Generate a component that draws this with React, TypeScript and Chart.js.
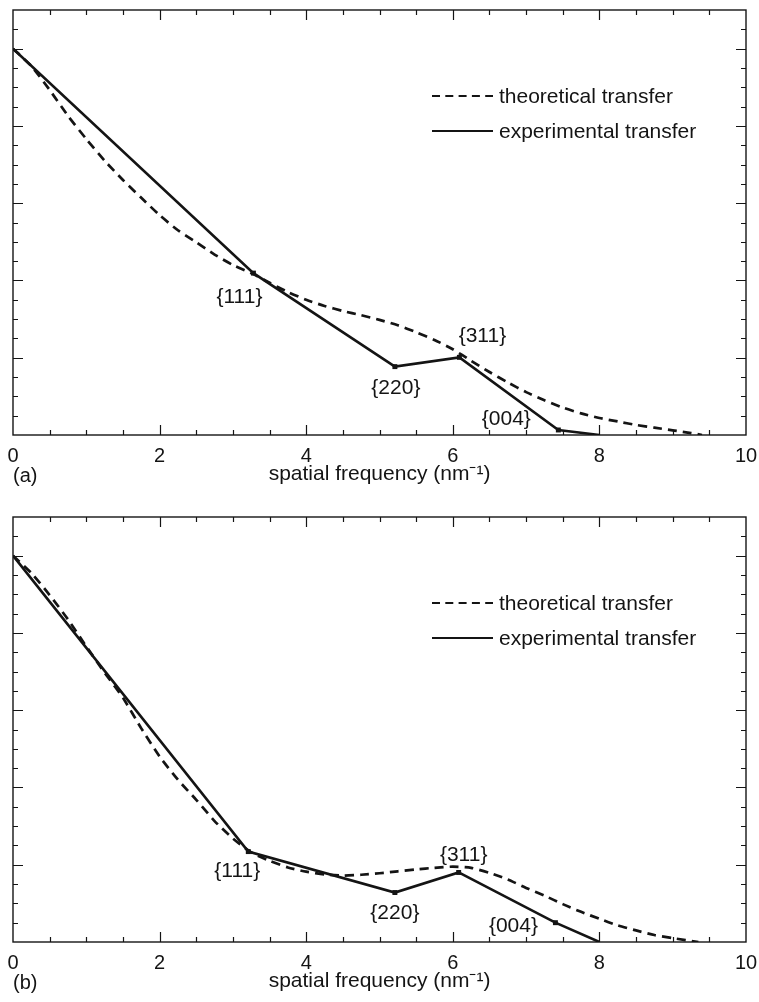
import React, { useEffect, useRef } from 'react';
import { Chart, registerables } from 'chart.js';

Chart.register(...registerables);

// ---------- data ----------
const X_MIN = 0;
const X_MAX = 10;
const Y_MIN = 0;
const Y_MAX = 1.1;

const X_TICK_LABELS = [0, 2, 4, 6, 8, 10];
const X_TICK_MARKS = [0.5, 1, 1.5, 2, 2.5, 3, 3.5, 4, 4.5, 5, 5.5, 6, 6.5, 7, 7.5, 8, 8.5, 9, 9.5];
const X_MAJOR_MARKS = [2, 4, 6, 8];
const Y_TICK_MARKS = [0.05, 0.1, 0.15, 0.2, 0.25, 0.3, 0.35, 0.4, 0.45, 0.5, 0.55, 0.6, 0.65, 0.7, 0.75, 0.8, 0.85, 0.9, 0.95, 1.0, 1.05];
const Y_MAJOR_MARKS = [0.2, 0.4, 0.6, 0.8, 1.0];

const X_TITLE = 'spatial frequency (nm⁻¹)';
const LEGEND_LABELS = ['theoretical transfer', 'experimental transfer'];
const REFLECTIONS = ['{111}', '{220}', '{311}', '{004}'];
const PANEL_LABELS = ['(a)', '(b)'];

// panel (a)
const A_THEORY_X = [0, 0.25, 0.5, 0.75, 1.0, 1.25, 1.5, 1.75, 2.0, 2.25, 2.5, 2.75, 3.0, 3.25, 3.5, 3.75, 4.0, 4.25, 4.5, 4.75, 5.0, 5.25, 5.5, 5.75, 6.0, 6.25, 6.5, 6.75, 7.0, 7.25, 7.5, 7.75, 8.0, 8.25, 8.5, 8.75, 9.0, 9.25, 9.4];
const A_THEORY_Y = [1.0, 0.955, 0.893, 0.826, 0.766, 0.71, 0.66, 0.614, 0.569, 0.53, 0.499, 0.467, 0.44, 0.419, 0.394, 0.37, 0.35, 0.334, 0.321, 0.31, 0.298, 0.284, 0.266, 0.246, 0.222, 0.192, 0.163, 0.136, 0.111, 0.09, 0.071, 0.056, 0.044, 0.035, 0.026, 0.019, 0.012, 0.005, 0];
const A_EXP_X = [0, 3.28, 5.21, 6.09, 7.44, 8.0];
const A_EXP_Y = [1.0, 0.419, 0.177, 0.201, 0.013, 0];

// panel (b)
const B_THEORY_X = [0, 0.25, 0.5, 0.75, 1.0, 1.25, 1.5, 1.75, 2.0, 2.25, 2.5, 2.75, 3.0, 3.25, 3.5, 3.75, 4.0, 4.25, 4.5, 4.75, 5.0, 5.25, 5.5, 5.75, 6.0, 6.25, 6.5, 6.75, 7.0, 7.25, 7.5, 7.75, 8.0, 8.25, 8.5, 8.75, 9.0, 9.35];
const B_THEORY_Y = [1.0, 0.955, 0.898, 0.835, 0.765, 0.697, 0.632, 0.553, 0.48, 0.42, 0.368, 0.313, 0.268, 0.232, 0.21, 0.193, 0.182, 0.175, 0.172, 0.174, 0.178, 0.183, 0.188, 0.192, 0.195, 0.192, 0.179, 0.162, 0.14, 0.12, 0.098, 0.078, 0.06, 0.043, 0.03, 0.018, 0.01, 0];
const B_EXP_X = [0, 3.21, 5.21, 6.08, 7.4, 8.0];
const B_EXP_Y = [1.0, 0.234, 0.128, 0.18, 0.05, 0];

// ---------- style ----------
const FONT = '"Liberation Sans", Arial, Helvetica, sans-serif';
const INK = '#141414';
const CANVAS_W = 759;
const CANVAS_H = 490;
const AXIS_H = 55;
const A_LABEL_OFFSETS = [[-14, 24], [1, 22], [23, -21], [-52, -11]];
const B_LABEL_OFFSETS = [[-11, 20], [0, 21], [5, -17], [-42, 4]];

const toPoints = (xs: number[], ys: number[]) => xs.map((x, i) => ({ x, y: ys[i] }));

const framePlugin = {
  id: 'frame',
  afterDatasetsDraw(chart: any, _args: any, opts: any) {
    const { ctx, chartArea: ca, scales } = chart;
    const xs = scales.x;
    const ys = scales.y;
    ctx.save();
    ctx.strokeStyle = INK;
    ctx.lineWidth = 1.4;
    ctx.strokeRect(ca.left, ca.top, ca.right - ca.left, ca.bottom - ca.top);
    ctx.lineWidth = 1.2;
    ctx.beginPath();
    X_TICK_MARKS.forEach((v) => {
      const len = X_MAJOR_MARKS.includes(v) ? 10 : 5;
      const px = Math.round(xs.getPixelForValue(v)) + 0.5;
      ctx.moveTo(px, ca.bottom);
      ctx.lineTo(px, ca.bottom - len);
      ctx.moveTo(px, ca.top);
      ctx.lineTo(px, ca.top + len);
    });
    Y_TICK_MARKS.forEach((v) => {
      const len = Y_MAJOR_MARKS.includes(v) ? 10 : 5;
      const py = Math.round(ys.getPixelForValue(v)) + 0.5;
      ctx.moveTo(ca.left, py);
      ctx.lineTo(ca.left + len, py);
      ctx.moveTo(ca.right, py);
      ctx.lineTo(ca.right - len, py);
    });
    ctx.stroke();

    // legend
    ctx.fillStyle = INK;
    ctx.font = `21px ${FONT}`;
    ctx.textBaseline = 'alphabetic';
    ctx.textAlign = 'left';
    chart.data.datasets.forEach((ds: any, i: number) => {
      const y = ca.top + 86 + i * 35;
      const x0 = 432;
      ctx.save();
      ctx.lineWidth = 2.2;
      ctx.setLineDash(ds.borderDash && ds.borderDash.length ? [8, 5.3] : []);
      ctx.beginPath();
      ctx.moveTo(x0, y);
      ctx.lineTo(x0 + 61, y);
      ctx.stroke();
      ctx.restore();
      ctx.fillText(ds.label, x0 + 67, y + 7);
    });

    // reflection labels
    const meta = chart.getDatasetMeta(1);
    ctx.font = `21px ${FONT}`;
    ctx.textAlign = 'center';
    ctx.textBaseline = 'middle';
    REFLECTIONS.forEach((txt, i) => {
      const el = meta.data[i + 1];
      const off = opts.offsets[i];
      ctx.fillText(txt, el.x + off[0], el.y + off[1]);
    });

    // panel label
    ctx.font = `20px ${FONT}`;
    ctx.textAlign = 'left';
    ctx.textBaseline = 'alphabetic';
    ctx.fillText(opts.panel, ca.left, ca.bottom + 47);
    ctx.restore();
  },
};

function Panel({ theoryX, theoryY, expX, expY, offsets, panel, top }: any) {
  const ref = useRef<HTMLCanvasElement>(null);
  useEffect(() => {
    if (!ref.current) return;
    const chart = new Chart(ref.current, {
      type: 'line',
      data: {
        datasets: [
          {
            label: LEGEND_LABELS[0],
            data: toPoints(theoryX, theoryY),
            borderColor: INK,
            borderWidth: 2.7,
            borderDash: [9, 6],
            pointRadius: 0,
            tension: 0.2,
            fill: false,
          },
          {
            label: LEGEND_LABELS[1],
            data: toPoints(expX, expY),
            borderColor: INK,
            borderWidth: 2.6,
            pointRadius: [0, 3.5, 3.5, 3.5, 3.5, 0],
            pointStyle: 'rect',
            pointBackgroundColor: INK,
            pointBorderColor: INK,
            pointBorderWidth: 0,
            tension: 0,
            fill: false,
          },
        ],
      },
      options: {
        animation: false,
        responsive: false,
        maintainAspectRatio: false,
        layout: { padding: { left: 13, right: 13, top: 10, bottom: 0 } },
        plugins: {
          legend: { display: false },
          tooltip: { enabled: false },
          frame: { offsets, panel },
        } as any,
        scales: {
          x: {
            type: 'linear',
            min: X_MIN,
            max: X_MAX,
            grid: { display: false, drawTicks: false },
            border: { display: false },
            afterBuildTicks: (scale: any) => {
              scale.ticks = X_TICK_LABELS.map((v) => ({ value: v }));
            },
            afterFit: (scale: any) => {
              scale.height = AXIS_H;
              scale.paddingLeft = 0;
              scale.paddingRight = 0;
            },
            ticks: {
              color: INK,
              font: { family: FONT, size: 20 },
              padding: 9,
              maxRotation: 0,
              autoSkip: false,
            },
            title: {
              display: true,
              text: X_TITLE,
              color: INK,
              font: { family: FONT, size: 21 },
              padding: { top: 0, bottom: 3 },
            },
          },
          y: {
            type: 'linear',
            min: Y_MIN,
            max: Y_MAX,
            display: false,
          },
        },
      },
      plugins: [framePlugin],
    });
    return () => chart.destroy();
  }, []);
  return (
    <canvas
      ref={ref}
      width={CANVAS_W}
      height={CANVAS_H}
      style={{ position: 'absolute', left: 0, top, width: CANVAS_W, height: CANVAS_H }}
    />
  );
}

export default function App() {
  return (
    <div style={{ position: 'absolute', left: 0, top: 0, width: 759, height: 1002, background: '#fff' }}>
      <Panel theoryX={A_THEORY_X} theoryY={A_THEORY_Y} expX={A_EXP_X} expY={A_EXP_Y} offsets={A_LABEL_OFFSETS} panel={PANEL_LABELS[0]} top={0} />
      <Panel theoryX={B_THEORY_X} theoryY={B_THEORY_Y} expX={B_EXP_X} expY={B_EXP_Y} offsets={B_LABEL_OFFSETS} panel={PANEL_LABELS[1]} top={507} />
    </div>
  );
}
